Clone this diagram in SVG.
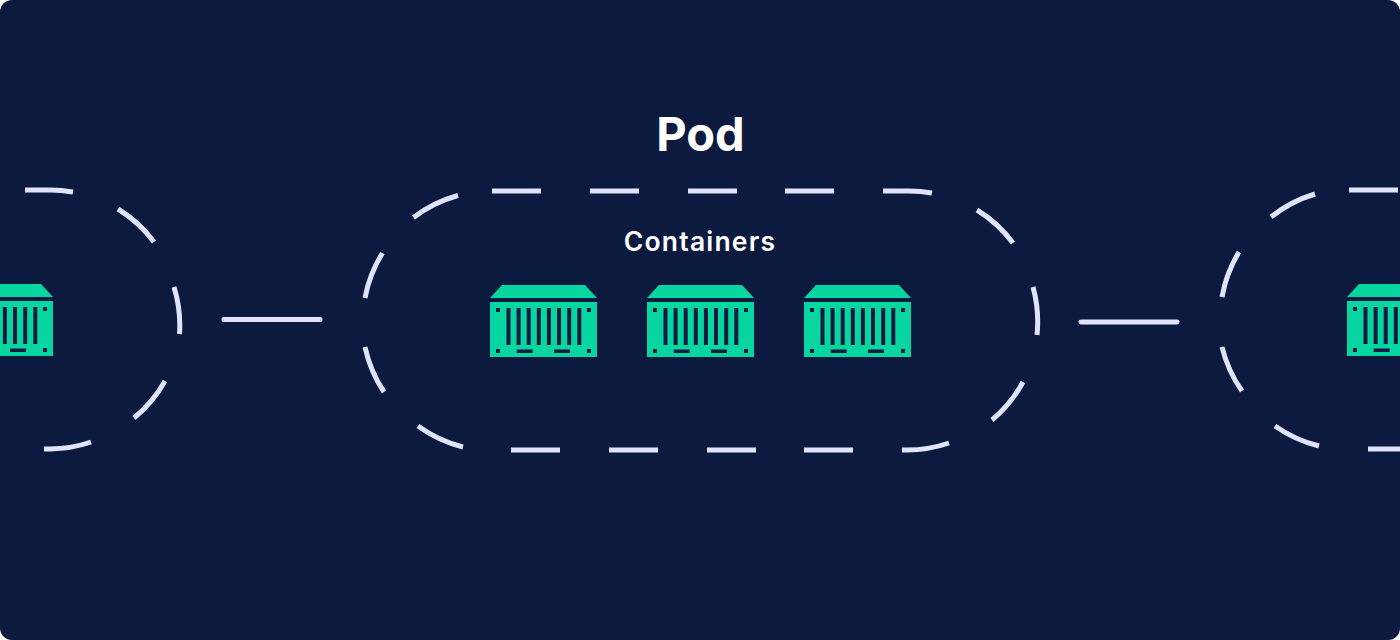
<svg xmlns="http://www.w3.org/2000/svg" width="1400" height="640" viewBox="0 0 1400 640">
<style>
.d{fill:none;stroke:#dfe4fa;stroke-width:5}
.c{fill:none;stroke:#dfe4fa;stroke-width:5;stroke-linecap:round}
.t{fill:#fff;font-family:Inter,"Liberation Sans",sans-serif;text-anchor:middle}
.g{fill:#08d6a0}
.s{fill:#0d1a3f}
</style>
<defs>
<g id="box">
<path class="g" d="M490 298L502 285H585L597 298Z"/>
<rect class="g" x="490" y="302" width="107" height="55"/>
<g class="s">
<rect x="506.500" y="308" width="4" height="37"/><rect x="516.600" y="308" width="4" height="37"/><rect x="526.700" y="308" width="4" height="37"/><rect x="536.800" y="308" width="4" height="37"/><rect x="546.900" y="308" width="4" height="37"/><rect x="557" y="308" width="4" height="37"/><rect x="567.200" y="308" width="4" height="37"/><rect x="577.300" y="308" width="4" height="37"/>
<rect x="496" y="308" width="4" height="4"/><rect x="587" y="308" width="4" height="4"/><rect x="496" y="349" width="4" height="4"/><rect x="587" y="349" width="4" height="4"/>
<rect x="516.700" y="349.500" width="16" height="3.500"/><rect x="554" y="349.500" width="16" height="3.500"/>
</g>
</g>
</defs>
<rect width="1400" height="640" fill="#fff"/>
<rect id="background" width="1400" height="640" rx="12" fill="#0d1a3f"/>
<text class="t" x="700.500" y="151" font-size="47" font-weight="700">Pod</text>
<text class="t" x="700" y="251" font-size="26.500" font-weight="600" letter-spacing="1.200">Containers</text>
<g id="pod-left">
<path class="d" d="M25 190H50A130 130 0 0 1 73 192M118 209A130 130 0 0 1 154 242M174 287A130 130 0 0 1 179.500 334M165 381A130 130 0 0 1 134 418M91 442A130 130 0 0 1 50 449H44"/>
<use href="#box" x="-544" y="-1"/>
</g>
<g id="pod-center">
<path class="d" d="M413.500 217.500A130 130 0 0 1 458 195.500M382.500 253A130 130 0 0 0 365 298M365 347A130 130 0 0 0 384 392M418 426A130 130 0 0 0 463 447M492 191H541M590 191H639M688 191H737M785 191H834M883 191H907A130 130 0 0 1 932 193M977 210A130 130 0 0 1 1013 243M1033 287A130 130 0 0 1 1037 335M1023 382A130 130 0 0 1 992 420M949 443A130 130 0 0 1 907 450H902M853 450H804M756 450H707M658 450H609M560 450H511"/>
<g id="container-1"><use href="#box"/></g>
<g id="container-2"><use href="#box" x="157"/></g>
<g id="container-3"><use href="#box" x="314"/></g>
</g>
<g id="pod-right">
<path class="d" d="M1271 217A130 130 0 0 1 1315 194M1239 252A130 130 0 0 0 1222 297M1222 347A130 130 0 0 0 1242 391M1275 426A130 130 0 0 0 1319 446M1349 190H1398M1368 449H1400"/>
<use href="#box" x="857" y="-1"/>
</g>
<g id="connectors">
<path class="c" d="M224 319.500H320"/>
<path class="c" d="M1081 322H1177"/>
</g>
</svg>
